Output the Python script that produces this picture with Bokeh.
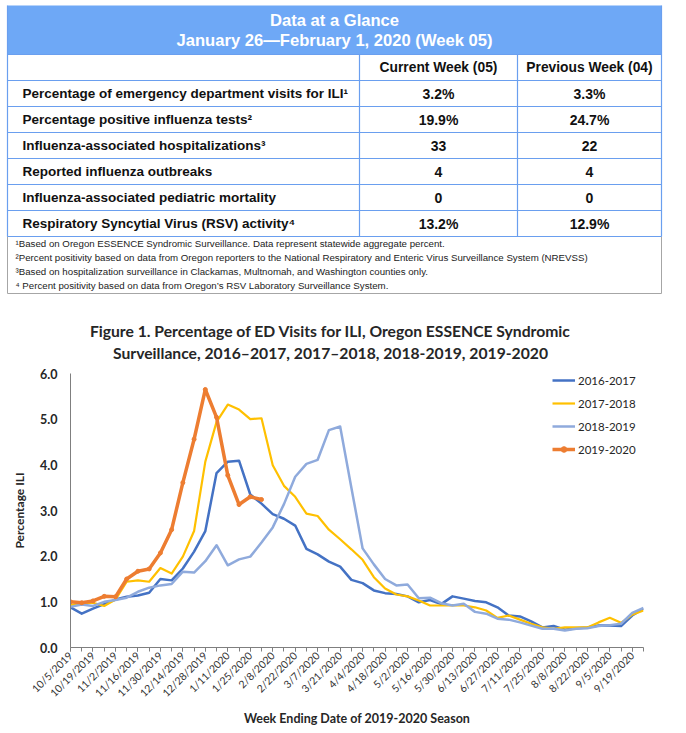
import math
from bokeh.plotting import figure
from bokeh.models import Range1d, FixedTicker, Legend, LegendItem, PrintfTickFormatter
from bokeh.layouts import column
from bokeh.core.properties import value
from bokeh.embed import file_html
from bokeh.resources import INLINE

# ---------------- data ----------------
table_title = ["Data at a Glance", "January 26\u2014February 1, 2020 (Week 05)"]
col_headers = ["Current Week (05)", "Previous Week (04)"]
row_labels = [
    "Percentage of emergency department visits for ILI\u00b9",
    "Percentage positive influenza tests\u00b2",
    "Influenza-associated hospitalizations\u00b3",
    "Reported influenza outbreaks",
    "Influenza-associated pediatric mortality",
    "Respiratory Syncytial Virus (RSV) activity\u2074",
]
current_week = ["3.2%", "19.9%", "33", "4", "0", "13.2%"]
previous_week = ["3.3%", "24.7%", "22", "4", "0", "12.9%"]
footnotes = [
    "\u00b9Based on Oregon ESSENCE Syndromic Surveillance. Data represent statewide aggregate percent.",
    "\u00b2Percent positivity based on data from Oregon reporters to the National Respiratory and Enteric Virus Surveillance System (NREVSS)",
    "\u00b3Based on hospitalization surveillance in Clackamas, Multnomah, and Washington counties only.",
    "\u2074 Percent positivity based on data from Oregon\u2019s RSV Laboratory Surveillance System.",
]
chart_title = [
    "Figure 1. Percentage of ED Visits for ILI, Oregon ESSENCE Syndromic",
    "Surveillance, 2016\u20132017, 2017\u20132018, 2018-2019, 2019-2020",
]

weeks = [
    "10/5/2019", "10/12/2019", "10/19/2019", "10/26/2019", "11/2/2019", "11/9/2019",
    "11/16/2019", "11/23/2019", "11/30/2019", "12/7/2019", "12/14/2019", "12/21/2019",
    "12/28/2019", "1/4/2020", "1/11/2020", "1/18/2020", "1/25/2020", "2/1/2020",
    "2/8/2020", "2/15/2020", "2/22/2020", "2/29/2020", "3/7/2020", "3/14/2020",
    "3/21/2020", "3/28/2020", "4/4/2020", "4/11/2020", "4/18/2020", "4/25/2020",
    "5/2/2020", "5/9/2020", "5/16/2020", "5/23/2020", "5/30/2020", "6/6/2020",
    "6/13/2020", "6/20/2020", "6/27/2020", "7/4/2020", "7/11/2020", "7/18/2020",
    "7/25/2020", "8/1/2020", "8/8/2020", "8/15/2020", "8/22/2020", "8/29/2020",
    "9/5/2020", "9/12/2020", "9/19/2020", "9/26/2020",
]
series_names = ["2016-2017", "2017-2018", "2018-2019", "2019-2020"]
s_2016_2017 = [0.88, 0.74, 0.85, 0.95, 1.05, 1.11, 1.14, 1.20, 1.50, 1.47, 1.73, 2.10,
               2.55, 3.82, 4.07, 4.09, 3.35, 3.15, 2.92, 2.82, 2.67, 2.16, 2.04, 1.88,
               1.77, 1.48, 1.41, 1.25, 1.19, 1.17, 1.12, 0.99, 1.04, 0.95, 1.12, 1.07,
               1.02, 0.99, 0.88, 0.70, 0.68, 0.57, 0.44, 0.47, 0.39, 0.42, 0.44, 0.48,
               0.48, 0.47, 0.70, 0.85]
s_2017_2018 = [0.93, 0.96, 0.98, 0.91, 1.05, 1.44, 1.47, 1.44, 1.74, 1.62, 1.99, 2.55,
               4.07, 4.94, 5.32, 5.21, 5.00, 5.02, 3.99, 3.54, 3.30, 2.93, 2.88, 2.58,
               2.37, 2.15, 1.92, 1.54, 1.29, 1.16, 1.12, 1.03, 0.92, 0.92, 0.93, 0.92,
               0.88, 0.81, 0.65, 0.70, 0.61, 0.52, 0.44, 0.41, 0.44, 0.44, 0.44, 0.55,
               0.65, 0.54, 0.72, 0.81]
s_2018_2019 = [0.89, 0.94, 0.91, 1.00, 1.04, 1.09, 1.22, 1.31, 1.36, 1.39, 1.66, 1.64,
               1.89, 2.24, 1.80, 1.93, 1.99, 2.30, 2.63, 3.14, 3.74, 4.02, 4.11, 4.76,
               4.84, 3.50, 2.17, 1.82, 1.50, 1.36, 1.38, 1.08, 1.09, 0.97, 0.92, 0.96,
               0.78, 0.74, 0.63, 0.61, 0.55, 0.48, 0.41, 0.41, 0.37, 0.41, 0.42, 0.47,
               0.49, 0.52, 0.76, 0.87]
s_2019_2020 = [1.00, 0.98, 1.02, 1.12, 1.11, 1.50, 1.67, 1.72, 2.07, 2.58, 3.61, 4.56,
               5.65, 5.04, 3.77, 3.13, 3.30, 3.24]
y_ticks = [0, 1, 2, 3, 4, 5, 6]

# ---------------- top: table + chart title ----------------
W = 686
TOP_H = 364
top = figure(width=W, height=TOP_H, x_range=Range1d(0, W), y_range=Range1d(TOP_H, 0),
             x_axis_type=None, y_axis_type=None, output_backend="svg",
             toolbar_location=None, min_border=0, outline_line_color=None)
top.grid.visible = False
top.frame_align = False

L, R = 7, 661
C1, C2 = 359, 517
HT, HB = 5, 54
row_edges = [54, 80, 106, 132, 158, 184, 210, 236]
blue_line = "#6A9FEF"
top.quad(left=[L], right=[R], top=[HT], bottom=[HB], fill_color="#6EA8F6", line_color=None)
top.quad(left=[L], right=[R], top=[236], bottom=[293], fill_color=None,
         line_color="#A6A6A6", line_width=1)
top.segment(x0=[L] * len(row_edges), x1=[R] * len(row_edges), y0=row_edges, y1=row_edges,
            line_color=blue_line, line_width=1.2)
top.segment(x0=[L, C1, C2, R], x1=[L, C1, C2, R], y0=[HT, HB, HB, HT], y1=[236, 236, 236, 236],
            line_color=blue_line, line_width=1.2)

font = value("Liberation Sans")
top.text(x=[(L + R) / 2] * 2, y=[20, 40], text=table_title, text_font=font,
         text_font_style="bold", text_font_size="16.6px", text_color="white",
         text_align="center", text_baseline="middle")
top.text(x=[(C1 + C2) / 2, (C2 + R) / 2], y=[67, 67], text=col_headers, text_font=font,
         text_font_style="bold", text_font_size="13.8px", text_color="#111111",
         text_align="center", text_baseline="middle")
row_mid = [(row_edges[i] + row_edges[i + 1]) / 2 for i in range(1, len(row_edges) - 1)]
top.text(x=[22] * len(row_labels), y=row_mid, text=row_labels, text_font=font,
         text_font_style="bold", text_font_size="13.5px", text_color="#111111",
         text_align="left", text_baseline="middle")
top.text(x=[(C1 + C2) / 2] * len(current_week), y=row_mid, text=current_week, text_font=font,
         text_font_style="bold", text_font_size="14px", text_color="#111111",
         text_align="center", text_baseline="middle")
top.text(x=[(C2 + R) / 2] * len(previous_week), y=row_mid, text=previous_week, text_font=font,
         text_font_style="bold", text_font_size="14px", text_color="#111111",
         text_align="center", text_baseline="middle")
top.text(x=[15] * len(footnotes), y=[243, 257, 271, 285], text=footnotes, text_font=font,
         text_font_size="9.7px", text_color="#222222", text_align="left", text_baseline="middle")
top.text(x=[330, 330], y=[330, 352], text=chart_title, text_font=value("Lato"),
         text_font_style="bold", text_font_size="15.7px", text_color="#262626",
         text_align="center", text_baseline="middle")

# ---------------- chart ----------------
CH = 366
xs = list(range(len(weeks)))
p = figure(width=W, height=CH, x_range=Range1d(0, len(weeks) - 1), y_range=Range1d(0, 6),
           output_backend="svg", toolbar_location=None,
           min_border_left=70, min_border_right=43, min_border_top=9, min_border_bottom=83,
           outline_line_color=None)
p.grid.visible = False
p.frame_align = False

colors = ["#4472C4", "#FFC000", "#8FAADC", "#ED7D31"]
widths = [2.5, 2.2, 2.5, 3.5]
vals = [s_2016_2017, s_2017_2018, s_2018_2019, s_2019_2020]
items = []
for name, c, w, v in zip(series_names, colors, widths, vals):
    r = p.line(xs[:len(v)], v, line_color=c, line_width=w, line_join="round")
    rs = [r]
    if name == "2019-2020":
        m = p.scatter(xs[:len(v)], v, marker="circle", size=4, fill_color=c, line_color=c)
        rs.append(m)
    items.append(LegendItem(label=name, renderers=rs))

legend = Legend(items=items, location=(482, 191), orientation="vertical",
                background_fill_alpha=0, border_line_color=None, padding=0, margin=0,
                glyph_width=23, glyph_height=14, label_height=14, spacing=9,
                label_standoff=3, label_text_font="Lato", label_text_font_size="11.5px",
                label_text_color="#262626")
p.add_layout(legend)

axis_col = "#7F7F7F"
p.yaxis.ticker = FixedTicker(ticks=y_ticks)
p.yaxis.formatter = PrintfTickFormatter(format="%.1f")
p.yaxis.major_tick_out = 0
p.yaxis.major_tick_in = 0
p.yaxis.minor_tick_out = 0
p.yaxis.minor_tick_in = 0
p.yaxis.axis_line_color = axis_col
p.yaxis.major_label_text_font = "Lato"
p.yaxis.major_label_text_font_style = "bold"
p.yaxis.major_label_text_font_size = "12.5px"
p.yaxis.major_label_text_color = "#262626"
p.yaxis.major_label_standoff = 13
p.yaxis.axis_label = "Percentage ILI"
p.yaxis.axis_label_text_font = "Lato"
p.yaxis.axis_label_text_font_style = "bold"
p.yaxis.axis_label_text_font_size = "12px"
p.yaxis.axis_label_text_color = "#262626"
p.yaxis.axis_label_standoff = 10

p.xaxis.ticker = FixedTicker(ticks=xs[::2], minor_ticks=xs)
p.xaxis.major_label_overrides = {i: weeks[i] for i in xs[::2]}
p.xaxis.major_label_orientation = math.pi / 4
p.xaxis.major_tick_out = 4
p.xaxis.major_tick_in = 0
p.xaxis.minor_tick_out = 4
p.xaxis.minor_tick_in = 0
p.xaxis.axis_line_color = axis_col
p.xaxis.major_tick_line_color = axis_col
p.xaxis.minor_tick_line_color = axis_col
p.xaxis.major_label_text_font = "Lato"
p.xaxis.major_label_text_font_size = "10.5px"
p.xaxis.major_label_text_color = "#333333"
p.xaxis.major_label_standoff = 2
p.xaxis.axis_label = "Week Ending Date of 2019-2020 Season"
p.xaxis.axis_label_text_font = "Lato"
p.xaxis.axis_label_text_font_style = "bold"
p.xaxis.axis_label_text_font_size = "12.5px"
p.xaxis.axis_label_text_color = "#262626"
p.xaxis.axis_label_standoff = 5

layout = column(top, p, spacing=0)
open("out.html", "w").write(file_html(layout, INLINE))
